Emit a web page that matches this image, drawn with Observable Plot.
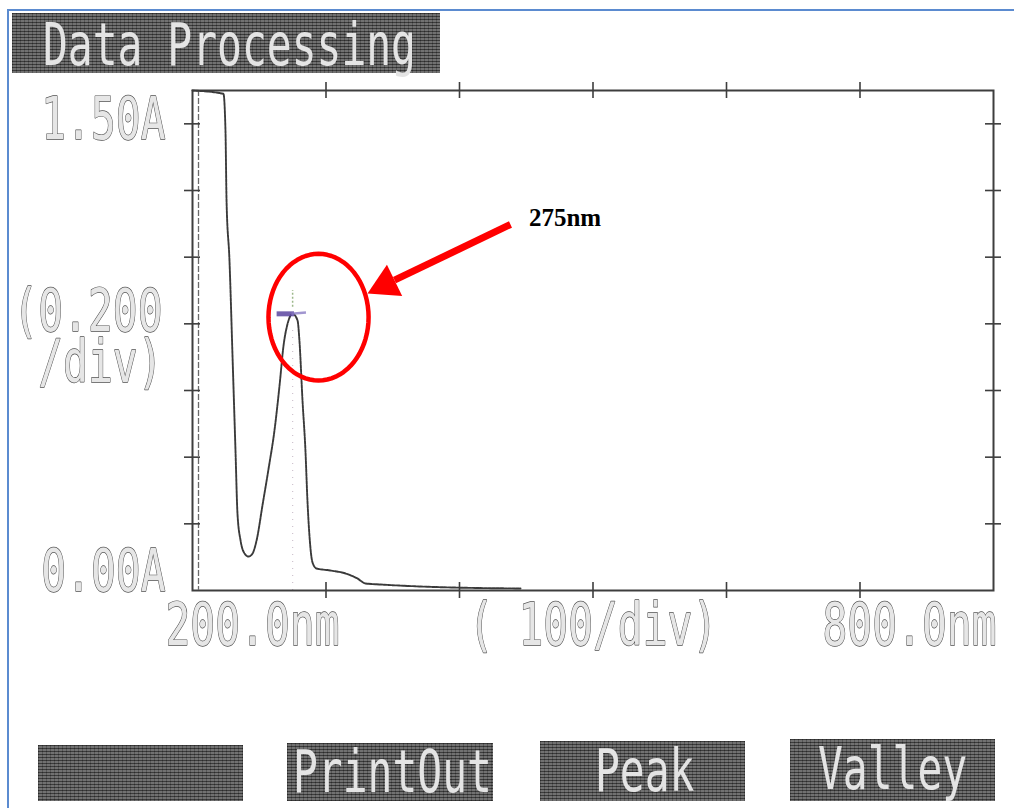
<!DOCTYPE html>
<html>
<head>
<meta charset="utf-8">
<script src="https://cdn.jsdelivr.net/npm/d3@7"></script>
<script src="https://cdn.jsdelivr.net/npm/@observablehq/plot@0.6"></script>
<style>
  html, body { margin: 0; padding: 0; background: #fff; }
  #page { position: relative; width: 1014px; height: 808px; overflow: hidden; background: #fff; }
  #edge { position: absolute; left: 7px; top: 9px; width: 1100px; height: 900px;
          border-left: 2px solid #5b8bd0; border-top: 2px solid #5b8bd0; }
  #chart { position: absolute; left: 0; top: 0; }
  .box { position: absolute;
    background-color: #555;
    background-image:
      repeating-linear-gradient(180deg, rgba(0,0,0,0.38) 0 1px, rgba(255,255,255,0.10) 1px 3px),
      repeating-linear-gradient(90deg, rgba(0,0,0,0.2) 0 1px, rgba(255,255,255,0.07) 1px 4px);
  }
  .box span { position: absolute; font-family: "DejaVu Sans Mono", monospace; font-size: 59px;
    line-height: 59px; white-space: pre; color: #e4e4e4; transform: scaleX(0.7); transform-origin: 0 0; }
</style>
</head>
<body>
<div id="page">
  <div id="edge"></div>
  <div id="chart"></div>
  <div class="box" style="left:12px;top:13px;width:428px;height:60px;"><span style="left:31px;top:2px;">Data Processing</span></div>
  <div class="box" style="left:38px;top:745px;width:205px;height:56px;"></div>
  <div class="box" style="left:287px;top:743px;width:206px;height:58px;"><span style="left:6px;top:-1px;">PrintOut</span></div>
  <div class="box" style="left:540px;top:741px;width:205px;height:60px;"><span style="left:55px;top:0px;">Peak</span></div>
  <div class="box" style="left:790px;top:739px;width:205px;height:62px;"><span style="left:28px;top:0px;">Valley</span></div>
</div>
<script>
// ---- data ----
const wavelength = [200, 223.2, 224.7, 225.5, 227.7, 230, 232.2, 233.7, 236, 239, 242, 245, 248, 252.4, 257, 261.4, 265.2, 268.2, 271.2, 275, 278.7, 280.1, 282.4, 284.6, 286.1, 287.6, 289.9, 292.9, 303.4, 314.6, 323.6, 329.6, 340.8, 370.8, 445.7];
const absorbance = [1.5, 1.49, 1.38, 1.17, 0.99, 0.70, 0.42, 0.23, 0.15, 0.111, 0.102, 0.111, 0.15, 0.255, 0.366, 0.48, 0.615, 0.735, 0.80, 0.83, 0.81, 0.75, 0.57, 0.42, 0.27, 0.165, 0.084, 0.066, 0.06, 0.051, 0.036, 0.021, 0.018, 0.012, 0.006];

const xDomain = [200, 800];
const yDomain = [0, 1.5];
const xTicks = [300, 400, 500, 600, 700];
const yTicks = [0.2, 0.4, 0.6, 0.8, 1.0, 1.2, 1.4];
const yTopLabel = ["1.50A"];
const yMidLabel = ["(0.200\n/div)"];
const yBottomLabel = ["0.00A"];
const xLeftLabel = ["200.0nm"];
const xMidLabel = ["( 100/div)"];
const xRightLabel = ["800.0nm"];

// annotation
const peakWavelength = 275;
const peakAbsorbance = 0.83;
const peakText = ["275nm"];
const peakTextAt = {nm: 452, A: 1.095};
const ellipseCenter = {nm: 294.4, A: 0.82};
const ellipseRadius = {nm: 37.5, A: 0.19};
const arrowShaft = [{nm1: 438.2, A1: 1.098, nm2: 351.3, A2: 0.931}];
const arrowHead = [{nm: 344.6, A: 0.9175}];

const spectrum = wavelength.map((w, i) => ({w, a: absorbance[i]}));
const ellipse = d3.range(0, 73).map(i => {
  const t = i / 72 * 2 * Math.PI;
  return {w: ellipseCenter.nm + ellipseRadius.nm * Math.cos(t), a: ellipseCenter.A + ellipseRadius.A * Math.sin(t)};
});

const mono = "DejaVu Sans Mono";
const labelStyle = {fontFamily: mono, fontSize: 59, fill: "#e6e6e6", stroke: "#505050", strokeWidth: 1.4};
const frameW = 1014 - 192 - 21;
const frameH = 808 - 90 - 218;

const chart = Plot.plot({
  width: 1014,
  height: 808,
  marginLeft: 192, marginRight: 21, marginTop: 90, marginBottom: 218,
  x: {domain: xDomain, axis: null},
  y: {domain: yDomain, axis: null},
  style: {background: "transparent", overflow: "visible"},
  marks: [
    // faint cursor line at the peak
    Plot.ruleX([peakWavelength], {y1: 0, y2: 0.78, stroke: "#b9a9b9", strokeWidth: 1.2, strokeDasharray: "1 6", strokeOpacity: 0.7}),
    Plot.ruleX([peakWavelength], {y1: 0.85, y2: 0.9, stroke: "#9cb88a", strokeWidth: 1.5, strokeDasharray: "2 2"}),
    // frame and double left axis
    Plot.frame({stroke: "#3e3e3e", strokeWidth: 2}),
    Plot.ruleX([200], {dx: 6, stroke: "#6a6a6a", strokeWidth: 1.3, strokeDasharray: "6 2"}),
    // crossing ticks
    Plot.tickY(yTicks, {y: d => d, insetRight: frameW - 16, dx: -8, stroke: "#3e3e3e", strokeWidth: 1.6}),
    Plot.tickY(yTicks, {y: d => d, insetLeft: frameW - 16, dx: 8, stroke: "#3e3e3e", strokeWidth: 1.6}),
    Plot.tickX(xTicks, {x: d => d, insetBottom: frameH - 16, dy: -8, stroke: "#3e3e3e", strokeWidth: 1.6}),
    Plot.tickX(xTicks, {x: d => d, insetTop: frameH - 16, dy: 8, stroke: "#3e3e3e", strokeWidth: 1.6}),
    // spectrum
    Plot.line(spectrum, {x: "w", y: "a", curve: "monotone-x", stroke: "#3a3a3a", strokeWidth: 1.9, strokeDasharray: "3 1"}),
    // peak marker
    Plot.link([peakWavelength], {x1: 263, x2: 276, y1: peakAbsorbance, y2: peakAbsorbance, stroke: "#5a45a0", strokeWidth: 5, strokeOpacity: 0.85}),
    Plot.link([peakWavelength], {x1: 274, x2: 285, y1: peakAbsorbance, y2: peakAbsorbance + 0.004, stroke: "#8a7cc4", strokeWidth: 2.5, strokeOpacity: 0.8}),
    // axis labels (dot-matrix style)
    Plot.text(yTopLabel, {x: () => 200, y: () => 1.5, text: d => d, textAnchor: "end", lineAnchor: "top", dx: -27, dy: 7, ...labelStyle}),
    Plot.text(yMidLabel, {x: () => 200, y: () => 0.75, text: d => d, textAnchor: "end", lineAnchor: "middle", lineHeight: 0.85, dx: -30, ...labelStyle}),
    Plot.text(yBottomLabel, {x: () => 200, y: () => 0, text: d => d, textAnchor: "end", lineAnchor: "bottom", dx: -27, dy: 0, ...labelStyle}),
    Plot.text(xLeftLabel, {x: () => 200, y: () => 0, text: d => d, textAnchor: "start", lineAnchor: "top", dx: -27, dy: 13, ...labelStyle}),
    Plot.text(xMidLabel, {x: () => 500, y: () => 0, text: d => d, textAnchor: "middle", lineAnchor: "top", dy: 13, ...labelStyle}),
    Plot.text(xRightLabel, {x: () => 800, y: () => 0, text: d => d, textAnchor: "end", lineAnchor: "top", dx: 3, dy: 13, ...labelStyle}),
    // annotation: ellipse, arrow, label
    Plot.line(ellipse, {x: "w", y: "a", stroke: "#ff0000", strokeWidth: 4.5, curve: "linear"}),
    Plot.link(arrowShaft, {x1: "nm1", y1: "A1", x2: "nm2", y2: "A2", stroke: "#ff0000", strokeWidth: 7}),
    Plot.dot(arrowHead, {x: "nm", y: "A", symbol: "triangle", r: 12.9, rotate: 244, fill: "#ff0000", stroke: "none"}),
    Plot.text(peakText, {x: () => peakTextAt.nm, y: () => peakTextAt.A, text: d => d, textAnchor: "start", lineAnchor: "bottom",
      fontFamily: "Liberation Serif", fontWeight: "bold", fontSize: 25, fill: "#000"})
  ]
});

chart.querySelectorAll('g[font-family="' + mono + '"] text').forEach(t => {
  t.setAttribute("transform", (t.getAttribute("transform") || "") + " scale(0.7,1)");
});
document.getElementById("chart").appendChild(chart);
</script>
</body>
</html>
